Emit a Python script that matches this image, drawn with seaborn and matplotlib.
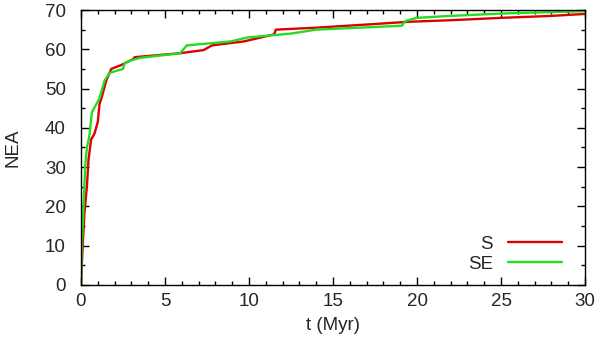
import matplotlib
matplotlib.use("Agg")
import matplotlib.pyplot as plt
import seaborn as sns
import pandas as pd
from matplotlib.ticker import MultipleLocator

# Data
t_S = [0, 0.1, 0.2, 0.35, 0.45, 0.6, 0.8, 1.0, 1.1, 1.25, 1.5, 1.8, 2.4, 3.1, 3.2,
       5.9, 7.3, 7.8, 9.7, 11.5, 11.6, 14.0, 17.0, 19.5, 22.0, 25.0, 28.0, 30.0]
nea_S = [0, 10, 18, 25, 32, 37, 38.5, 41.5, 46, 48, 52, 55, 56, 57.5, 58,
         59, 59.8, 61, 62, 63.8, 65, 65.5, 66.3, 67, 67.4, 68, 68.5, 69]

t_SE = [0, 0.05, 0.15, 0.25, 0.35, 0.5, 0.65, 1.1, 1.4, 1.7, 2.5, 2.6, 3.0, 3.5,
        5.9, 6.3, 8.9, 9.9, 12.5, 14.0, 19.1, 19.3, 20.0, 22.0, 25.0, 30.0]
nea_SE = [0, 10, 20, 30, 35, 38, 44, 47.5, 52, 54, 55, 56.5, 57.2, 57.8,
          59, 61, 62, 63, 64, 65, 66, 67.2, 68, 68.5, 69.1, 69.7]

labels = ["S", "SE"]

df = pd.concat([
    pd.DataFrame({"t": t_S, "NEA": nea_S, "run": labels[0]}),
    pd.DataFrame({"t": t_SE, "NEA": nea_SE, "run": labels[1]}),
])

sns.set_style("ticks")
plt.rcParams["font.family"] = ["Liberation Sans", "DejaVu Sans"]
FS = 13.5
plt.rcParams["font.size"] = FS

fig = plt.figure(figsize=(6.0, 3.45), dpi=100)
ax = fig.add_axes([0.135, 0.174, 0.84, 0.797])

sns.lineplot(data=df, x="t", y="NEA", hue="run", sort=False, estimator=None,
             palette={"S": "#dd0000", "SE": "#22dd22"}, linewidth=1.7, ax=ax)

ax.set_xlim(0, 30)
ax.set_ylim(0, 70)
ax.xaxis.set_major_locator(MultipleLocator(5))
ax.xaxis.set_minor_locator(MultipleLocator(1))
ax.yaxis.set_major_locator(MultipleLocator(10))
ax.yaxis.set_minor_locator(MultipleLocator(5))
ax.tick_params(which="both", direction="in", top=True, right=True, labelsize=FS,
               color="black", width=1)
ax.tick_params(which="major", length=6, pad=6)
ax.tick_params(axis="y", which="major", pad=11)
ax.tick_params(which="minor", length=3)
for s in ax.spines.values():
    s.set_visible(True)
    s.set_color("black")
    s.set_linewidth(1)

ax.set_xlabel("t (Myr)", fontsize=FS, labelpad=5)
ax.set_ylabel("NEA", fontsize=FS, labelpad=17)

ax.legend(frameon=False, markerfirst=False, loc="lower right",
          handlelength=2.9, handletextpad=0.8, fontsize=FS, labelspacing=0.15,
          borderaxespad=0, borderpad=0,
          bbox_to_anchor=(0.955, 0.045), title=None)

fig.savefig("out.png", dpi=100)
